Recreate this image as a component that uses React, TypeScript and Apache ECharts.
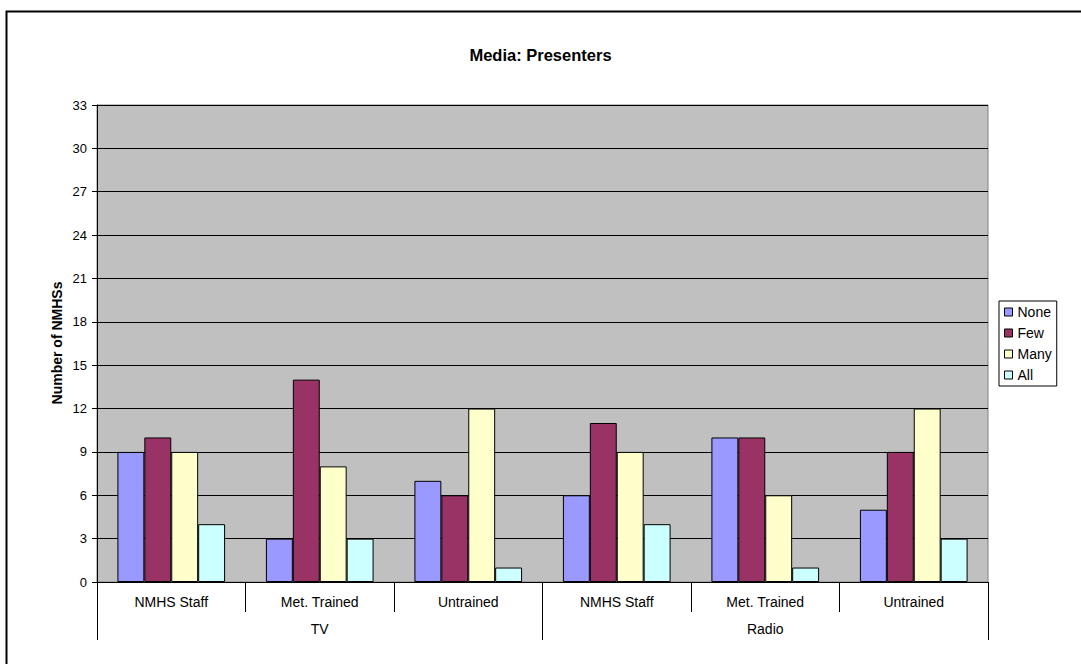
import React, { useEffect, useRef } from "react";
import * as echarts from "echarts";

const subCategories = ["NMHS Staff", "Met. Trained", "Untrained", "NMHS Staff", "Met. Trained", "Untrained"];
const groups = ["TV", "Radio"];
const yTicks = { min: 0, max: 33, interval: 3 };
const seriesNames = ["None", "Few", "Many", "All"];
const noneValues = [9, 3, 7, 6, 10, 5];
const fewValues = [10, 14, 6, 11, 10, 9];
const manyValues = [9, 8, 12, 9, 6, 12];
const allValues = [4, 3, 1, 4, 1, 3];
const colors = ["#9999FF", "#993366", "#FFFFCC", "#CCFFFF"];

const FONT = "Arial, 'Liberation Sans', sans-serif";

export default function App() {
  const ref = useRef<HTMLDivElement>(null);
  useEffect(() => {
    if (!ref.current) return;
    const chart = echarts.init(ref.current, undefined, { renderer: "svg" });
    const values = [noneValues, fewValues, manyValues, allValues];
    chart.setOption({
      animation: false,
      backgroundColor: "#FFFFFF",
      title: {
        text: "Media: Presenters",
        left: "center",
        top: 41,
        textStyle: { fontFamily: FONT, fontSize: 16.5, fontWeight: "bold", color: "#000" },
      },
      legend: {
        orient: "vertical",
        left: 999,
        top: 301,
        padding: [4, 5, 4, 5],
        itemGap: 7,
        itemWidth: 8,
        itemHeight: 8,
        icon: "rect",
        borderColor: "#000",
        borderWidth: 1,
        data: seriesNames,
        itemStyle: { borderColor: "#000", borderWidth: 1 },
        textStyle: { fontFamily: FONT, fontSize: 14, color: "#000" },
      },
      grid: {
        left: 97,
        top: 105,
        right: 93,
        bottom: 82,
        show: true,
        backgroundColor: "#C0C0C0",
        borderColor: "#808080",
        borderWidth: 1,
      },
      xAxis: [
        {
          type: "category",
          data: subCategories,
          axisLine: { show: true, lineStyle: { color: "#000", width: 1 } },
          axisTick: { show: true, length: 30, alignWithLabel: false, lineStyle: { color: "#000" } },
          axisLabel: { margin: 13, fontFamily: FONT, fontSize: 14, color: "#000", interval: 0 },
          splitLine: { show: false },
        },
        {
          type: "category",
          data: groups,
          position: "bottom",
          axisLine: { show: false },
          axisTick: { show: true, length: 58, lineStyle: { color: "#000" } },
          axisLabel: { margin: 40, fontFamily: FONT, fontSize: 14, color: "#000", interval: 0 },
          splitLine: { show: false },
        },
      ],
      yAxis: {
        type: "value",
        min: yTicks.min,
        max: yTicks.max,
        interval: yTicks.interval,
        axisLine: { show: true, lineStyle: { color: "#000" } },
        axisTick: { show: true, length: 5, lineStyle: { color: "#000" } },
        axisLabel: { margin: 10, fontFamily: FONT, fontSize: 13, color: "#000" },
        splitLine: { show: true, lineStyle: { color: "#000", width: 1 } },
      },
      graphic: [
        {
          type: "rect",
          shape: { x: 6.5, y: 11.5, width: 1200, height: 800 },
          style: { fill: "none", stroke: "#000", lineWidth: 2 },
          silent: true,
        },
        {
          type: "text",
          x: 57,
          y: 343,
          rotation: Math.PI / 2,
          style: {
            text: "Number of NMHSs",
            fontFamily: FONT,
            fontSize: 14,
            fontWeight: "bold",
            fill: "#000",
            textAlign: "center",
            textVerticalAlign: "middle",
          },
        },
      ],
      series: seriesNames.map((name, i) => ({
        name,
        type: "bar",
        xAxisIndex: 0,
        data: values[i],
        barGap: "0%",
        barCategoryGap: "27.5%",
        itemStyle: { color: colors[i], borderColor: "#000", borderWidth: 1 },
      })),
    });
    return () => chart.dispose();
  }, []);
  return (
    <div
      ref={ref}
      style={{ position: "absolute", left: 0, top: 0, width: 1081, height: 664 }}
    />
  );
}
